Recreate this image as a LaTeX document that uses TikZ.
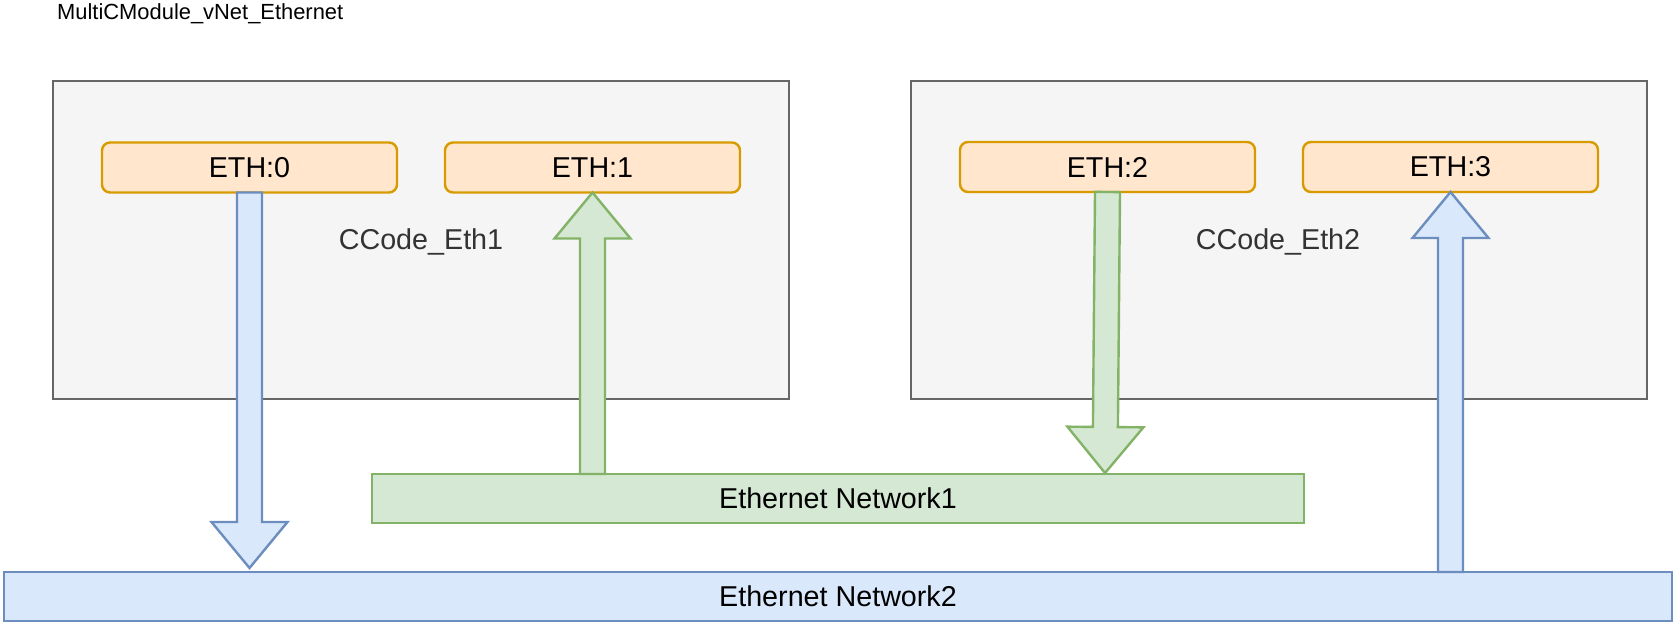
\documentclass[tikz,border=0pt]{standalone}
\usepackage{fontspec}
\setmainfont{Liberation Sans}
\usetikzlibrary{calc}
\definecolor{boxfill}{HTML}{F5F5F5}
\definecolor{boxline}{HTML}{666666}
\definecolor{ethfill}{HTML}{FFE6CC}
\definecolor{ethline}{HTML}{D79B00}
\definecolor{gfill}{HTML}{D5E8D4}
\definecolor{gline}{HTML}{82B366}
\definecolor{bfill}{HTML}{DAE8FC}
\definecolor{bline}{HTML}{6C8EBF}
\definecolor{lbltext}{HTML}{333333}
\newcommand{\blockarrow}[3]{%
  \coordinate (ba-b) at ($(#3)!46pt!(#2)$);
  \draw[#1] ($(#2)!12.5pt!90:(#3)$) -- ($(ba-b)!12.5pt!90:(#3)$) -- ($(ba-b)!38pt!90:(#3)$)
    -- (#3) -- ($(ba-b)!38pt!-90:(#3)$) -- ($(ba-b)!12.5pt!-90:(#3)$) -- ($(#2)!12.5pt!-90:(#3)$) -- cycle;
}
\begin{document}
\begin{tikzpicture}[x=1pt,y=-1pt,
  container/.style={draw=boxline,fill=boxfill,line width=2.4pt,minimum width=736pt,minimum height=318pt,inner sep=0pt,outer sep=0pt},
  port/.style={draw=ethline,fill=ethfill,line width=2.4pt,rounded corners=8pt,minimum width=295pt,minimum height=50pt,inner sep=0pt,outer sep=0pt,font=\fontsize{28.7pt}{34pt}\selectfont},
  netg/.style={draw=gline,fill=gfill,line width=2.4pt,minimum height=49pt,inner sep=0pt,outer sep=0pt,font=\fontsize{28.7pt}{34pt}\selectfont},
  netb/.style={draw=bline,fill=bfill,line width=2.4pt,minimum height=49pt,inner sep=0pt,outer sep=0pt,font=\fontsize{28.7pt}{34pt}\selectfont},
  garrow/.style={draw=gline,fill=gfill,line width=2.4pt,line join=miter},
  barrow/.style={draw=bline,fill=bfill,line width=2.4pt,line join=miter},
  boxlabel/.style={anchor=base,inner sep=0pt,text=lbltext,font=\fontsize{28.7pt}{34pt}\selectfont}]
\useasboundingbox (0,0) rectangle (1677,626);
\node[anchor=base west,inner sep=0pt,font=\fontsize{21.9pt}{26pt}\selectfont] (title) at (57,20) {MultiCModule\_vNet\_Ethernet};
\node[container] (box1) at (421,240) {};
\node[container] (box2) at (1279,240) {};
\node[boxlabel] (lbl1) at (421,249) {CCode\_Eth1};
\node[boxlabel] (lbl2) at (1278,249) {CCode\_Eth2};
\node[port] (eth0) at (249.5,167.5) {ETH:0};
\node[port] (eth1) at (592.5,167.5) {ETH:1};
\node[port] (eth2) at (1107.5,167) {ETH:2};
\node[port] (eth3) at (1450.5,167) {ETH:3};
\node[netg,minimum width=932pt] (net1) at (838,498.5) {Ethernet Network1};
\node[netb,minimum width=1668pt] (net2) at (838,596.5) {Ethernet Network2};
\coordinate (a0s) at (eth0.south);
\coordinate (a0t) at ($(eth0.south |- net2.north)+(0,-4)$);
\coordinate (a1s) at (eth1.south |- net1.north);
\coordinate (a1t) at (eth1.south);
\coordinate (a2s) at (eth2.south);
\coordinate (a2t) at ($(eth2.south |- net1.north)+(-2.5,-1)$);
\coordinate (a3s) at (eth3.south |- net2.north);
\coordinate (a3t) at (eth3.south);
\blockarrow{barrow}{a0s}{a0t}
\blockarrow{garrow}{a1s}{a1t}
\blockarrow{garrow}{a2s}{a2t}
\blockarrow{barrow}{a3s}{a3t}
\end{tikzpicture}
\end{document}
